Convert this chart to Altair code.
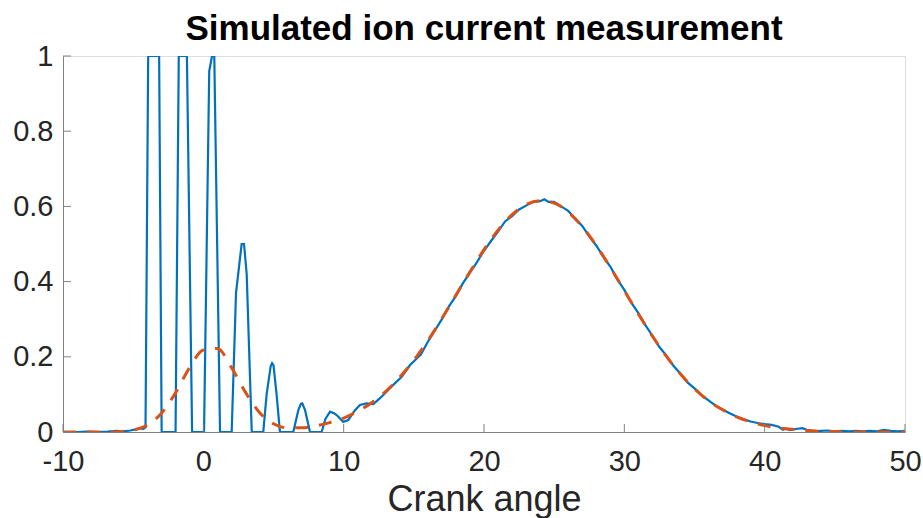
import altair as alt
import pandas as pd

TITLE = "Simulated ion current measurement"

# Measured ion current (blue) — crank angle / normalized current
meas_angle = [-10.0, -9.0, -8.3, -7.5, -6.8, -6.2, -5.7, -5.2, -4.8, -4.5, -4.3, -4.12,
              -3.93, -3.15, -2.97, -1.98, -1.75, -1.17, -0.80, 0.05, 0.42, 0.62, 0.78, 1.19,
              2.02, 2.33, 2.73, 2.90, 3.09, 3.45, 4.27, 4.51, 4.80, 4.90, 5.00, 5.22, 5.46,
              6.41, 6.77, 6.95, 7.05, 7.25, 7.60, 8.43, 8.70, 9.03, 9.30, 9.50, 9.97, 10.33,
              10.81, 11.16, 11.64, 12.11, 12.59, 13.18, 13.66, 14.14, 14.73, 15.08, 15.5,
              16.0, 16.5, 17.0, 17.5, 18.0, 18.5, 19.0, 19.5, 20.0, 20.5, 21.0, 21.5, 22.0,
              22.5, 23.0, 23.5, 24.0, 24.3, 24.6, 25.0, 25.5, 26.0, 26.5, 27.0, 27.5, 28.0,
              28.5, 29.0, 29.5, 30.0, 30.5, 31.0, 31.5, 32.0, 32.5, 33.0, 33.5, 34.0, 34.5,
              35.0, 35.5, 36.0, 36.5, 37.0, 37.5, 38.0, 38.5, 39.0, 39.5, 40.0, 40.5, 41.0,
              41.3, 41.5, 41.8, 42.2, 42.7, 43.0, 43.5, 44.0, 44.5, 45.0, 45.5, 46.0, 46.5,
              47.0, 47.5, 48.0, 48.5, 49.0, 49.5, 50.0]
meas_current = [0.000, 0.000, 0.001, 0.000, 0.001, 0.003, 0.002, 0.004, 0.007, 0.010, 0.008, 0.012,
                1.0, 1.0, 0.0, 0.0, 1.0, 1.0, 0.0, 0.0, 0.96, 1.0, 1.0, 0.0,
                0.0, 0.37, 0.50, 0.50, 0.42, 0.0, 0.0, 0.10, 0.175, 0.183, 0.178, 0.10, 0.0,
                0.0, 0.058, 0.075, 0.076, 0.058, 0.0, 0.0, 0.035, 0.054, 0.050, 0.045, 0.027, 0.032,
                0.058, 0.072, 0.076, 0.074, 0.090, 0.112, 0.130, 0.147, 0.178, 0.191, 0.206,
                0.240, 0.270, 0.300, 0.334, 0.362, 0.396, 0.424, 0.452, 0.482, 0.508, 0.533, 0.560, 0.574,
                0.592, 0.602, 0.612, 0.614, 0.619, 0.612, 0.612, 0.600, 0.588, 0.568, 0.548, 0.520, 0.496,
                0.466, 0.440, 0.406, 0.378, 0.344, 0.316, 0.284, 0.256, 0.226, 0.203, 0.176, 0.155, 0.132,
                0.116, 0.098, 0.084, 0.070, 0.060, 0.050, 0.041, 0.034, 0.028, 0.024, 0.021, 0.019, 0.014,
                0.006, 0.009, 0.005, 0.008, 0.010, 0.006, 0.002, 0.003, 0.004, 0.002, 0.003, 0.002, 0.003,
                0.002, 0.003, 0.002, 0.006, 0.003, 0.002, 0.003]

# Fitted model (orange dashed)
fit_angle = list(range(-10, 51))
fit_current = [0.0, 0.0, 0.0, 0.0, 0.001, 0.005, 0.018, 0.049, 0.103, 0.170,
               0.218, 0.222, 0.172, 0.106, 0.052, 0.022, 0.011, 0.011, 0.016, 0.025,
               0.037, 0.055, 0.078, 0.108, 0.146, 0.191, 0.243, 0.302, 0.364, 0.426,
               0.485, 0.537, 0.578, 0.605, 0.615, 0.609, 0.585, 0.546, 0.496, 0.438,
               0.376, 0.314, 0.255, 0.201, 0.154, 0.115, 0.083, 0.059, 0.040, 0.027,
               0.017, 0.011, 0.007, 0.004, 0.002, 0.001, 0.0, 0.0, 0.0, 0.0, 0.0]

x_ticks = [-10, 0, 10, 20, 30, 40, 50]
y_ticks = [0, 0.2, 0.4, 0.6, 0.8, 1]

meas = pd.DataFrame({"angle": meas_angle, "current": meas_current})
fit = pd.DataFrame({"angle": fit_angle, "current": fit_current})
xt = pd.DataFrame({"v": x_ticks})
yt = pd.DataFrame({"v": y_ticks})
tt = pd.DataFrame({"t": [TITLE]})

FONT = "Liberation Sans"
W, H = 842, 376

xscale = alt.Scale(domain=[-10, 50], nice=False, zero=False)
yscale = alt.Scale(domain=[0, 1], nice=False)

xaxis = alt.Axis(values=x_ticks, labelExpr="'' + datum.value", title="Crank angle",
                 grid=False, ticks=False, domainColor="#808080", domainWidth=1,
                 labelFlush=False, labelOverlap=False,
                 labelFont=FONT, labelFontSize=29, labelColor="#262626", labelPadding=15,
                 titleFont=FONT, titleFontSize=36, titleFontWeight="normal", titleColor="#262626",
                 titlePadding=6)
yaxis = alt.Axis(values=y_ticks, labelExpr="'' + datum.value", title=None,
                 grid=False, ticks=False, domainColor="#808080", domainWidth=1,
                 labelFlush=False, labelOverlap=False,
                 labelFont=FONT, labelFontSize=29, labelColor="#262626", labelPadding=10)

blue = alt.Chart(meas).mark_line(color="#0072BD", strokeWidth=2.2, clip=True).encode(
    x=alt.X("angle:Q", scale=xscale, axis=xaxis),
    y=alt.Y("current:Q", scale=yscale, axis=yaxis),
)
orange = alt.Chart(fit).mark_line(color="#D95319", strokeWidth=3, strokeDash=[13, 11],
                                  interpolate="monotone", clip=True).encode(
    x=alt.X("angle:Q", scale=xscale),
    y=alt.Y("current:Q", scale=yscale),
)
xtick = alt.Chart(xt).mark_rule(color="#808080", strokeWidth=1).encode(
    x=alt.X("v:Q", scale=xscale), y=alt.value(H), y2=alt.value(H - 8)
)
ytick = alt.Chart(yt).mark_rule(color="#808080", strokeWidth=1).encode(
    y=alt.Y("v:Q", scale=yscale), x=alt.value(0), x2=alt.value(8)
)
title = alt.Chart(tt).mark_text(font=FONT, fontSize=35, fontWeight="bold", color="#000000",
                                align="center", baseline="alphabetic").encode(
    text="t:N", x=alt.value(W / 2), y=alt.value(-16)
)

chart = alt.layer(blue, orange, xtick, ytick, title).properties(
    width=W, height=H,
    padding={"left": 63, "top": 56, "right": 18, "bottom": 86},
    autosize="none",
).configure_view(stroke="#dcdcdc", strokeWidth=1).configure(background="white")

chart.save("out.html", embed_options={"renderer": "svg", "actions": False})
